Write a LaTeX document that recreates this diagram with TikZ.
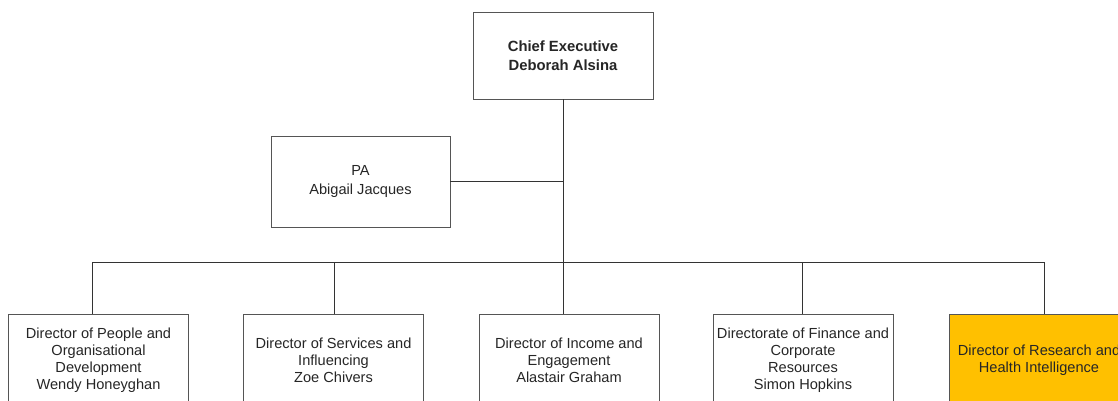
\documentclass[tikz,border=0pt]{standalone}
\usepackage{fontspec}
\setmainfont{Liberation Sans}
\definecolor{boxline}{HTML}{555555}
\definecolor{conn}{HTML}{333333}
\definecolor{hl}{HTML}{FFC000}
\begin{document}
\begin{tikzpicture}[x=1pt,y=-1pt,
  orgbox/.style={draw=boxline, line width=0.9pt, rectangle, align=center,
    minimum width=180pt, minimum height=#1, inner sep=0pt,
    font=\fontsize{14.6}{16.9}\selectfont, text=black!85},
  orgbox/.default=92pt,
  link/.style={draw=conn, line width=0.9pt}]
\useasboundingbox (0,0) rectangle (1118,401);
\clip (0,0) rectangle (1118,401);
\fill[white] (0,0) rectangle (1118,401);
\node[orgbox=87pt, font=\fontsize{14.8}{19}\selectfont\bfseries] (chief) at (563,55.5) {Chief Executive\\Deborah Alsina};
\node[orgbox=91pt, minimum width=179pt, font=\fontsize{14.6}{19}\selectfont] (pa) at (360.5,181.5) {PA\\Abigail Jacques};
\node[orgbox] (b1) at (98.5,360) {Director of People and\\Organisational\\Development\\Wendy Honeyghan};
\node[orgbox] (b2) at (333.5,360) {Director of Services and\\Influencing\\Zoe Chivers};
\node[orgbox] (b3) at (569,360) {Director of Income  and\\Engagement\\Alastair Graham};
\node[orgbox] (b4) at (803,360) {Directorate of Finance and\\Corporate\\Resources\\Simon Hopkins};
\node[orgbox, fill=hl] (b5) at (1039,360) {Director of Research and\\Health Intelligence};
\coordinate (bus) at (563,262);
\coordinate (paj) at (563,181);
\coordinate (j1) at (92,262);
\coordinate (j2) at (334,262);
\coordinate (j3) at (563,262);
\coordinate (j4) at (802,262);
\coordinate (j5) at (1044,262);
\draw[link] (chief.south) -- (bus);
\draw[link] (pa.east |- paj) -- (paj);
\draw[link] (j1) -- (j5);
\draw[link] (j1) -- (j1 |- b1.north);
\draw[link] (j2) -- (j2 |- b2.north);
\draw[link] (j3) -- (j3 |- b3.north);
\draw[link] (j4) -- (j4 |- b4.north);
\draw[link] (j5) -- (j5 |- b5.north);
\end{tikzpicture}
\end{document}
